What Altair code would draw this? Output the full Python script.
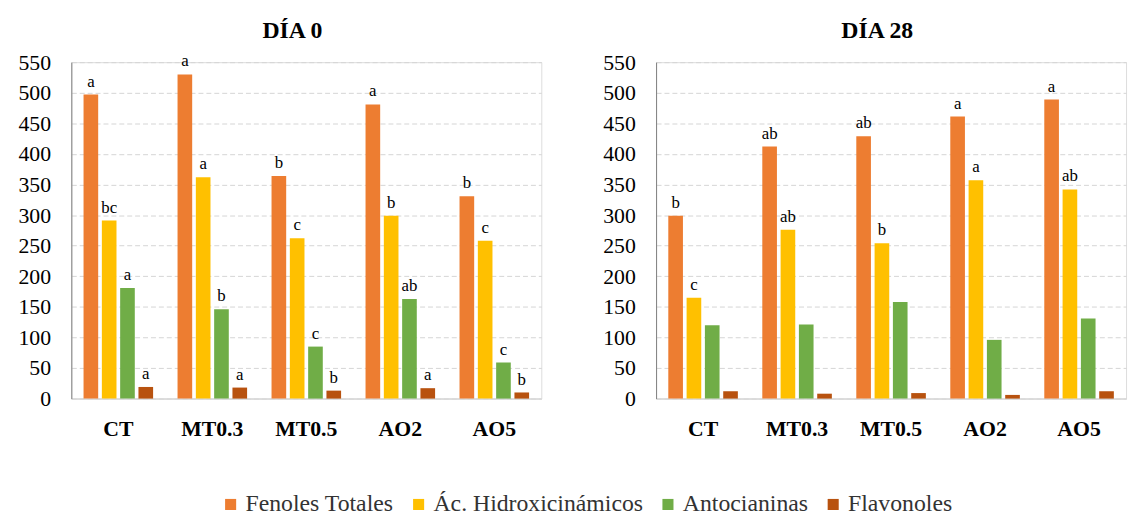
import altair as alt
import pandas as pd

categories = ["CT", "MT0.3", "MT0.5", "AO2", "AO5"]
series = ["Fenoles Totales", "Ác. Hidroxicinámicos", "Antocianinas", "Flavonoles"]
colors = ["#ED7D31", "#FFC000", "#70AD47", "#B8520F"]

# Día 0 values per series (order of categories)
d0_fenoles = [497, 530, 364, 481, 331]
d0_hidroxi = [291, 362, 262, 299, 258]
d0_antoc = [181, 146, 85, 163, 59]
d0_flavon = [19, 18, 13, 17, 10]
d0_let_fen = ["a", "a", "b", "a", "b"]
d0_let_hid = ["bc", "a", "c", "b", "c"]
d0_let_ant = ["a", "b", "c", "ab", "c"]
d0_let_fla = ["a", "a", "b", "a", "b"]

# Día 28 values
d28_fenoles = [299, 412, 429, 461, 489]
d28_hidroxi = [165, 276, 254, 357, 342]
d28_antoc = [120, 121, 158, 96, 131]
d28_flavon = [12, 8, 9, 6, 12]
d28_let_fen = ["b", "ab", "ab", "a", "a"]
d28_let_hid = ["c", "ab", "b", "a", "ab"]
d28_let_ant = ["", "", "", "", ""]
d28_let_fla = ["", "", "", "", ""]

y_ticks = list(range(0, 551, 50))


def build(vals, lets):
    rows = []
    for s, v, l in zip(series, vals, lets):
        for c, vv, ll in zip(categories, v, l):
            rows.append({"cat": c, "serie": s, "value": vv, "letter": ll})
    return pd.DataFrame(rows)


df0 = build([d0_fenoles, d0_hidroxi, d0_antoc, d0_flavon],
            [d0_let_fen, d0_let_hid, d0_let_ant, d0_let_fla])
df28 = build([d28_fenoles, d28_hidroxi, d28_antoc, d28_flavon],
             [d28_let_fen, d28_let_hid, d28_let_ant, d28_let_fla])

FONT = "'Liberation Serif', 'Times New Roman', Times, 'DejaVu Serif', serif"


def panel(df, title):
    x = alt.X("cat:N", sort=categories, title=None,
              scale=alt.Scale(paddingInner=0.26, paddingOuter=0.13),
              axis=alt.Axis(labelAngle=0, labelFont=FONT, labelFontSize=22,
                            labelFontWeight="bold", labelColor="#000000",
                            labelPadding=20, ticks=False, domainColor="#d9d9d9",
                            domainWidth=1.5))
    xo = alt.XOffset("serie:N", sort=series,
                     scale=alt.Scale(paddingInner=0.2, paddingOuter=0.0))
    y = alt.Y("value:Q", title=None,
              scale=alt.Scale(domain=[0, 550], nice=False),
              axis=alt.Axis(values=y_ticks, labelFont=FONT, labelFontSize=22,
                            labelColor="#000000", labelPadding=21, ticks=False,
                            domainColor="#808080", grid=True, gridColor="#d4d4d4",
                            gridDash=[5, 3]))
    color = alt.Color("serie:N", sort=series,
                      scale=alt.Scale(domain=series, range=colors),
                      legend=alt.Legend(title=None, orient="none", direction="horizontal",
                                        legendX=149, legendY=435,
                                        labelFont=FONT, labelFontSize=24,
                                        labelColor="#333333", labelLimit=400,
                                        symbolType="square",
                                        symbolSize=125, symbolStrokeWidth=0,
                                        columnPadding=13, labelOffset=3))
    bars = alt.Chart(df).mark_bar().encode(x=x, xOffset=xo, y=y, color=color)
    text = alt.Chart(df).mark_text(baseline="bottom", dy=-4, font=FONT,
                                   fontSize=17, color="#000000").encode(
        x=x, xOffset=xo, y=y, text="letter:N")
    return alt.layer(bars, text).properties(
        width=475, height=340,
        title=alt.TitleParams(title, font=FONT, fontSize=24, fontWeight="bold",
                              color="#000000", offset=8, dx=-14))


chart = alt.hconcat(panel(df0, "DÍA 0"), panel(df28, "DÍA 28"), spacing=60).properties(
    padding={"left": 9, "top": 8, "right": 5, "bottom": 5}
).configure_view(stroke=None).configure(background="#ffffff", font=FONT).configure_axis(
    labelFont=FONT).configure_legend(labelFont=FONT)

chart.save("out.html", embed_options={"renderer": "svg", "actions": False})
